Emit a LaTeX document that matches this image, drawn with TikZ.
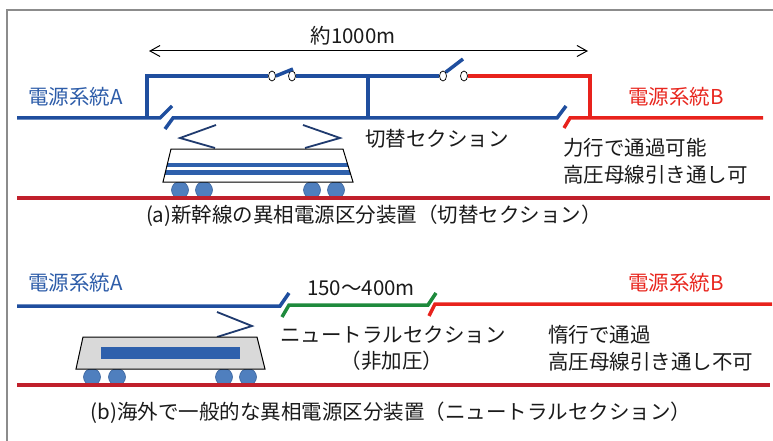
\documentclass[tikz,border=0pt]{standalone}
\usepackage{fontspec}
\setmainfont{Noto Sans CJK JP}
\usetikzlibrary{arrows.meta,shapes.geometric}
\definecolor{wireA}{HTML}{1F4E9E}
\definecolor{wireB}{HTML}{E8221C}
\definecolor{wireN}{HTML}{1E8A3C}
\definecolor{railred}{HTML}{C0202B}
\definecolor{txtA}{HTML}{2E5DA9}
\definecolor{txtB}{HTML}{E8271F}
\definecolor{txt}{HTML}{1A1A1A}
\definecolor{wheelfill}{HTML}{4F7FBE}
\definecolor{wheeledge}{HTML}{3B659E}
\definecolor{stripe}{HTML}{2E60AC}
\definecolor{panto}{HTML}{1F3A6E}
\definecolor{bodygray}{HTML}{D9D9D9}
\definecolor{framegray}{HTML}{8C8C8C}
\begin{document}
\begin{tikzpicture}[x=1pt,y=-1pt,
  wire/.style={line width=3.5pt, line join=miter},
  railline/.style={railred, line width=3.5pt},
  pantoline/.style={panto, line width=1.8pt, line join=miter},
  wheel/.style={fill=wheelfill, draw=wheeledge, line width=0.6pt},
  carbody/.style={draw=black, line width=1pt, line join=miter},
  lbl/.style={inner sep=0pt, font=\fontsize{20.5}{24}\selectfont, text=txt},
  lblA/.style={lbl, text=txtA},
  lblB/.style={lbl, text=txtB},
  swnode/.style={ellipse, draw=black, fill=white, line width=0.7pt,
    minimum width=7pt, minimum height=10pt, inner sep=0pt},
  dim/.style={black, line width=1pt, {Straight Barb[length=10pt,width=11pt]}-{Straight Barb[length=10pt,width=11pt]}}
]
\useasboundingbox (0,0) rectangle (773,441);

% frame
\draw[framegray, line width=1.2pt] (7,441) -- (7,10) -- (773,10);

% ---------------- (a) changeover section ----------------
\coordinate (lenL) at (149,51);
\coordinate (lenR) at (588,51);
\draw[dim] (lenL) -- (lenR);
\node[lbl] (len) at (353,36) {約1000m};

% switches on the feeder
\node[swnode] (s1a) at (272,76) {};
\node[swnode] (s1b) at (292,76) {};
\node[swnode] (s2a) at (443,76) {};
\node[swnode] (s2b) at (464,76) {};

% system A wires
\draw[wire, wireA] (17,118) -- (160,118) -- (172,106);
\draw[wire, wireA] (147,118) -- (147,76) -- (s1a.west);
\draw[wire, wireA] (165,129) -- (173,118) -- (557,118) -- (566,106);
\draw[wire, wireA] (368,118) -- (368,76);
\draw[wire, wireA] (s1b.east) -- (s2a.west);
\draw[wire, wireA] (s1a.east) -- (293,69);
\draw[wire, wireA] (s2a.north east) -- (463,59);

% system B wires
\draw[wire, wireB] (s2b.east) -- (590,76) -- (590,118);
\draw[wire, wireB] (564,128) -- (570,118) -- (763,118);

% train (a)
\foreach \wx in {180,204,312,336} \draw[wheel] (\wx,190) circle (8.5);
\draw[pantoline] (216,125) -- (180,138) -- (215,148);
\draw[pantoline] (303,125) -- (340,138) -- (305,148);
\fill[white] (171,149) -- (343,149) -- (353,182) -- (163,182) -- cycle;
\begin{scope}
  \clip (171,149) -- (343,149) -- (353,182) -- (163,182) -- cycle;
  \fill[stripe] (150,163) rectangle (360,167);
  \fill[stripe] (150,169.5) rectangle (360,174.5);
\end{scope}
\draw[carbody] (171,149) -- (343,149) -- (353,182) -- (163,182) -- cycle;
\draw[railline] (17,198) -- (770,198);

\node[lblA, anchor=west] (a-srcA) at (28,97) {電源系統A};
\node[lblB, anchor=west] (a-srcB) at (628,97) {電源系統B};
\node[lbl, anchor=west] (a-sec) at (365,139) {切替セクション};
\node[lbl, anchor=west] (a-note1) at (563,148) {力行で通過可能};
\node[lbl, anchor=west] (a-note2) at (563,175) {高圧母線引き通し可};
\node[lbl] (a-cap) at (374,216) {(a)新幹線の異相電源区分装置（切替セクション）};

% ---------------- (b) neutral section ----------------
\draw[wire, wireA] (17,306) -- (280,306) -- (289,293);
\draw[wire, wireN] (282,317) -- (289,305) -- (428,305) -- (436,293);
\draw[wire, wireB] (429,316) -- (435,304) -- (772,304);

% train (b)
\foreach \wx in {92,117,224,248} \draw[wheel] (\wx,377) circle (8.5);
\draw[pantoline] (217,312) -- (252,326) -- (217,337);
\draw[carbody, fill=bodygray] (83,337) -- (257,337) -- (265,369) -- (76,369) -- cycle;
\fill[stripe] (101,347) rectangle (240,359);
\draw[railline] (17,385) -- (770,385);

\node[lblA, anchor=west] (b-srcA) at (28,283) {電源系統A};
\node[lblB, anchor=west] (b-srcB) at (628,283) {電源系統B};
\node[lbl, anchor=west] (b-len) at (307,288) {150〜400m};
\node[lbl, anchor=west] (b-sec) at (280,335) {ニュートラルセクション};
\node[lbl] (b-sec2) at (392,361) {（非加圧）};
\node[lbl, anchor=west] (b-note1) at (548,335) {惰行で通過};
\node[lbl, anchor=west] (b-note2) at (548,362) {高圧母線引き通し不可};
\node[lbl] (b-cap) at (391,413) {(b)海外で一般的な異相電源区分装置（ニュートラルセクション）};
\end{tikzpicture}
\end{document}
